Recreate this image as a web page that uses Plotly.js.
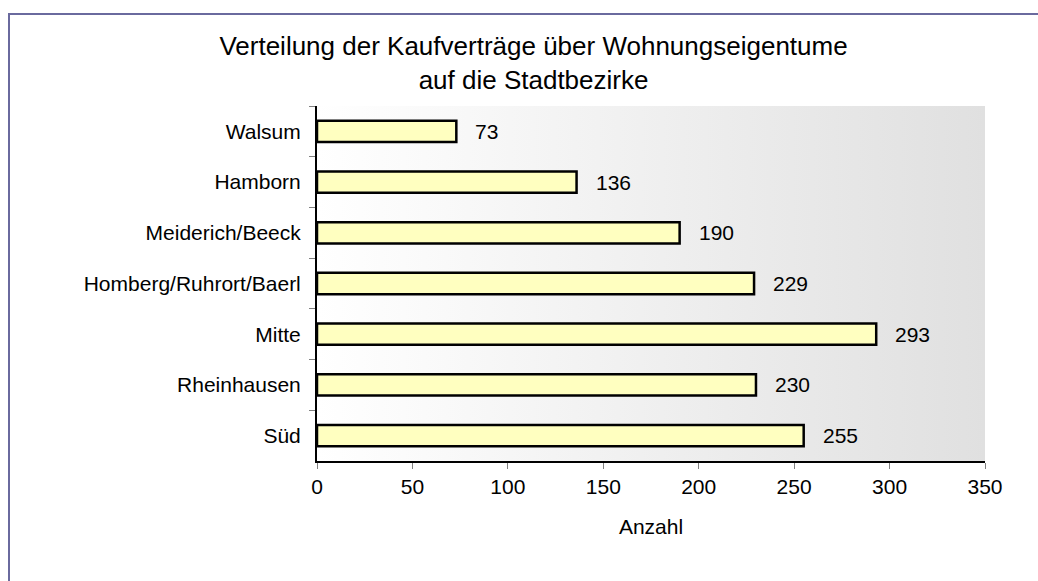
<!DOCTYPE html>
<html>
<head>
<meta charset="utf-8">
<script src="https://cdn.plot.ly/plotly-3.0.1.min.js"></script>
<style>
  html, body { margin: 0; padding: 0; background: #ffffff; overflow: hidden; }
  #chart { width: 1038px; height: 581px; }
</style>
</head>
<body>
<div id="chart"></div>
<script>
const categories = ["Walsum", "Hamborn", "Meiderich/Beeck", "Homberg/Ruhrort/Baerl", "Mitte", "Rheinhausen", "Süd"];
const values = [73, 136, 190, 229, 293, 230, 255];
const xTickValues = [0, 50, 100, 150, 200, 250, 300, 350];
const titleText = "Verteilung der Kaufverträge über Wohnungseigentume<br>auf die Stadtbezirke";
const xTitle = "Anzahl";

const FONT = "Arial, 'Liberation Sans', sans-serif";

const gradSvg = '<svg xmlns="http://www.w3.org/2000/svg" width="100" height="100" preserveAspectRatio="none">' +
  '<defs><linearGradient id="g" x1="0" y1="0" x2="1" y2="0">' +
  '<stop offset="0" stop-color="#ffffff"/><stop offset="1" stop-color="#e0e0e0"/>' +
  '</linearGradient></defs><rect width="100" height="100" fill="url(#g)"/></svg>';
const gradUri = 'data:image/svg+xml;base64,' + btoa(gradSvg);

const trace = {
  type: 'bar',
  orientation: 'h',
  x: values,
  y: categories,
  marker: { color: '#ffffc0', line: { color: '#000000', width: 2.5 } },
  hoverinfo: 'x+y',
  width: 0.42
};

const annotations = categories.map((c, i) => ({
  x: values[i], y: c, xref: 'x', yref: 'y',
  text: String(values[i]), showarrow: false,
  xanchor: 'left', xshift: 17,
  font: { family: FONT, size: 21, color: '#000000' }
}));

// outer frame (left and top edges), placed in paper units relative to the plot area
const ML = 317, MR = 53, MT = 106, MB = 120, W = 1038, H = 581;
const pw = W - ML - MR, ph = H - MT - MB;
const px = v => (v - ML) / pw;
const py = v => (H - MB - v) / ph;
const frameColor = '#6a6a9e';
const shapes = [
  { type: 'line', xref: 'paper', yref: 'paper', x0: px(9), x1: px(9), y0: py(13), y1: py(H + 2),
    line: { color: frameColor, width: 2 } },
  { type: 'line', xref: 'paper', yref: 'paper', x0: px(8), x1: px(W + 2), y0: py(14), y1: py(14),
    line: { color: frameColor, width: 2 } }
];

const layout = {
  width: W, height: H,
  margin: { l: ML, r: MR, t: MT, b: MB, pad: 0 },
  paper_bgcolor: '#ffffff',
  plot_bgcolor: 'rgba(0,0,0,0)',
  font: { family: FONT, size: 21, color: '#000000' },
  title: {
    text: titleText,
    font: { family: FONT, size: 26, color: '#000000' },
    x: 0.514, xref: 'container', xanchor: 'center',
    y: 0.905, yref: 'container', yanchor: 'top'
  },
  xaxis: {
    range: [0, 350],
    tickvals: xTickValues,
    ticktext: xTickValues.map(String),
    showgrid: false, zeroline: false,
    showline: true, linecolor: '#000000', linewidth: 2,
    ticks: 'outside', ticklen: 6, tickcolor: '#808080', tickwidth: 1,
    tickfont: { family: FONT, size: 21, color: '#000000' },
    title: { text: xTitle, font: { family: FONT, size: 21, color: '#000000' }, standoff: 22 }
  },
  yaxis: {
    type: 'category',
    range: [6.5, -0.5],
    showgrid: false, zeroline: false,
    showline: true, linecolor: '#000000', linewidth: 2,
    ticks: 'outside', ticklen: 6, tickcolor: '#808080', tickwidth: 1,
    tickson: 'boundaries',
    ticklabelstandoff: 10,
    tickfont: { family: FONT, size: 21, color: '#000000' }
  },
  images: [{
    source: gradUri, xref: 'paper', yref: 'paper',
    x: 0, y: 1, sizex: 1, sizey: 1, xanchor: 'left', yanchor: 'top',
    sizing: 'stretch', layer: 'below'
  }],
  shapes: shapes,
  annotations: annotations,
  showlegend: false
};

Plotly.newPlot('chart', [trace], layout, { displayModeBar: false, staticPlot: true });
</script>
</body>
</html>
